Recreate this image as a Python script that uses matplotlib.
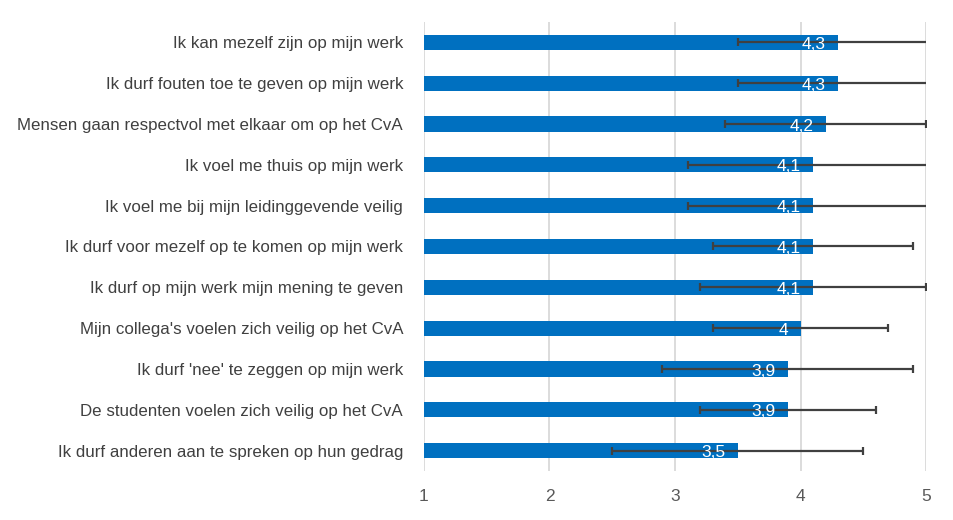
import numpy as np
import matplotlib.pyplot as plt

plt.switch_backend("Agg")

# data (top to bottom as shown)
categories = [
    "Ik kan mezelf zijn op mijn werk",
    "Ik durf fouten toe te geven op mijn werk",
    "Mensen gaan respectvol met elkaar om op het CvA",
    "Ik voel me thuis op mijn werk",
    "Ik voel me bij mijn leidinggevende veilig",
    "Ik durf voor mezelf op te komen op mijn werk",
    "Ik durf op mijn werk mijn mening te geven",
    "Mijn collega's voelen zich veilig op het CvA",
    "Ik durf 'nee' te zeggen op mijn werk",
    "De studenten voelen zich veilig op het CvA",
    "Ik durf anderen aan te spreken op hun gedrag",
]
means = [4.3, 4.3, 4.2, 4.1, 4.1, 4.1, 4.1, 4.0, 3.9, 3.9, 3.5]
errors = [0.8, 0.8, 0.8, 1.0, 1.0, 0.8, 0.9, 0.7, 1.0, 0.7, 1.0]
xticks = [1, 2, 3, 4, 5]

plt.rcParams["font.family"] = ["Liberation Sans", "DejaVu Sans"]

fig = plt.figure(figsize=(9.54, 5.2), dpi=100)
ax = fig.add_axes([0.4444, 0.094, 0.5263, 0.864])

y = np.arange(len(categories))
ax.barh(y, [m - 1 for m in means], left=1, height=0.37, color="#0070C0", zorder=2)
ax.errorbar(means, y, xerr=errors, fmt="none", ecolor="#404040", elinewidth=1.6,
            capsize=3, capthick=1.6, zorder=3)

for yi, m in zip(y, means):
    lbl = f"{m:g}".replace(".", ",")
    ax.annotate(lbl, (m, yi), xytext=(-9, -1.5), textcoords="offset points",
                ha="right", va="center", color="white", fontsize=12.5, zorder=4)

ax.set_xlim(1, 5)
ax.set_ylim(len(categories) - 0.5, -0.5)
ax.set_xticks(xticks)
ax.set_xticklabels([str(t) for t in xticks])
ax.set_yticks(y)
ax.set_yticklabels(categories)
ax.tick_params(axis="x", length=0, pad=13, labelsize=12.5, labelcolor="#595959")
ax.tick_params(axis="y", length=0, pad=15, labelsize=12.2, labelcolor="#404040")
ax.grid(axis="x", color="#d9d9d9", linewidth=1.3, zorder=0)
for s in ax.spines.values():
    s.set_visible(False)

plt.savefig("out.png", dpi=100)
plt.close()
